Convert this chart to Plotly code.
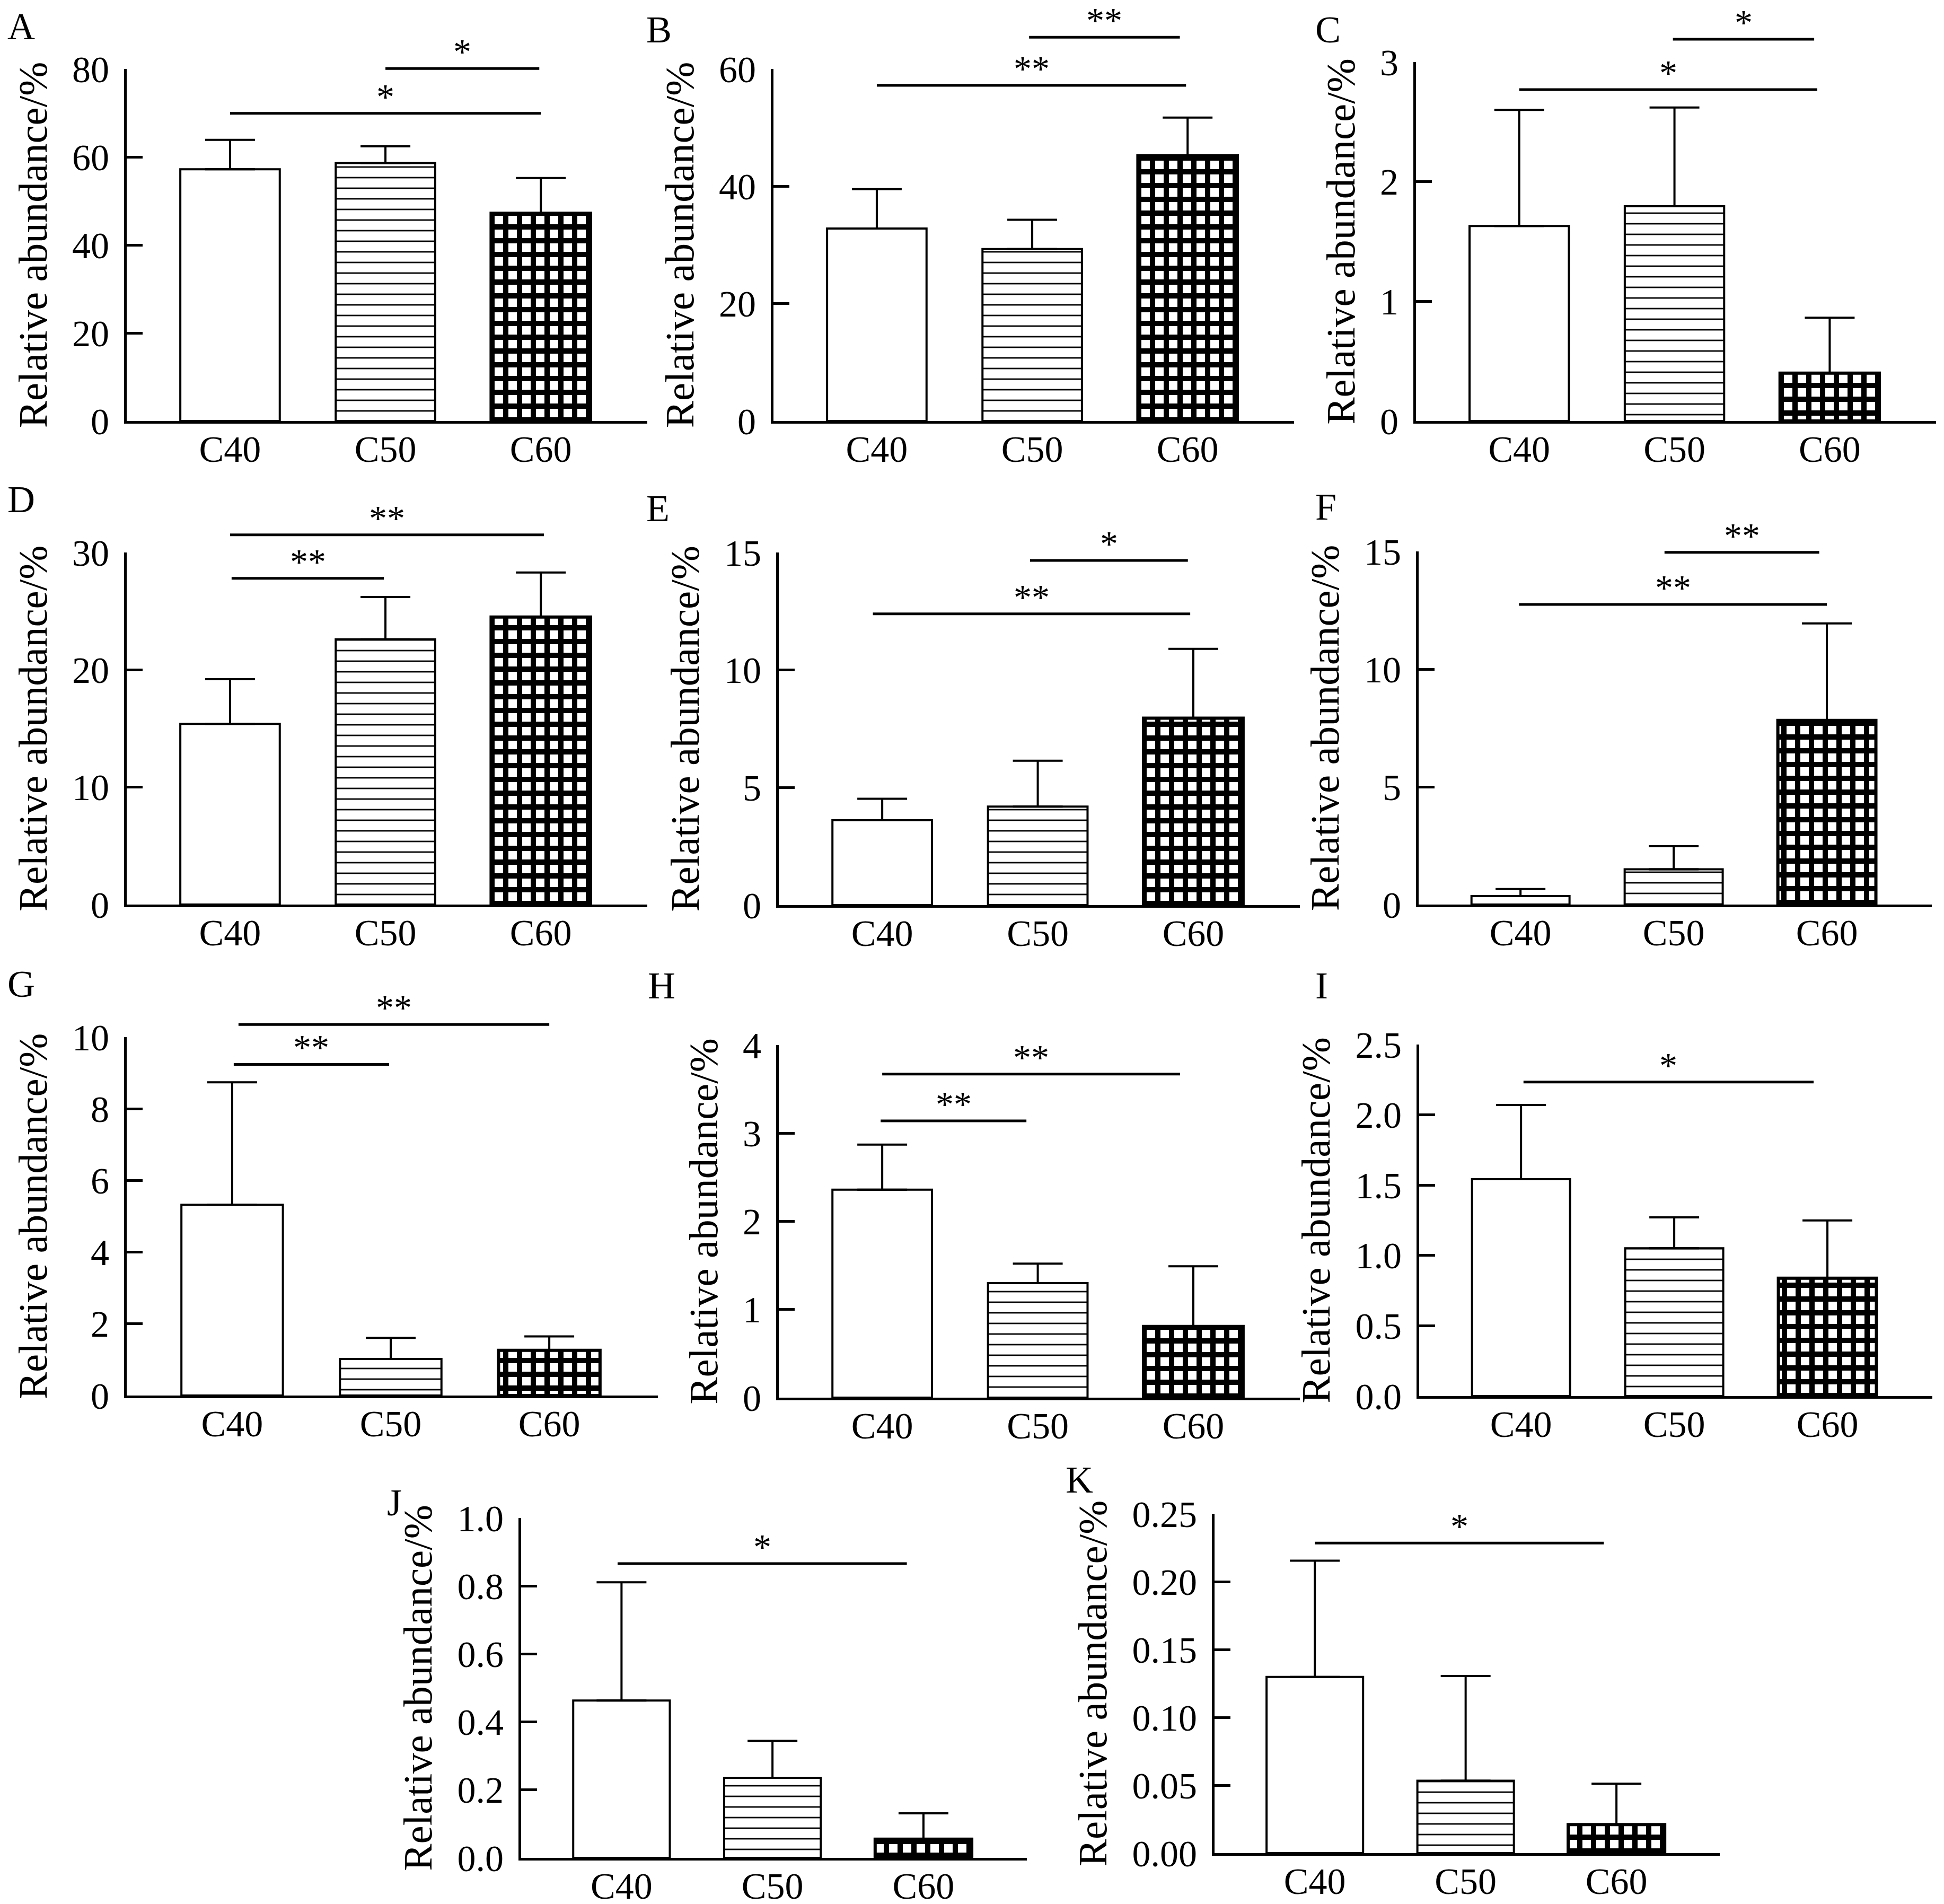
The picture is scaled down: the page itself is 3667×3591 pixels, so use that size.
import plotly.graph_objects as go

W, H = 3667, 3591
FONT = "Liberation Serif"

categories = ["C40", "C50", "C60"]
panels = ["A", "B", "C", "D", "E", "F", "G", "H", "I", "J", "K"]

# bar heights (mean) and upward error (SD)
mean_A = [57.2, 58.6, 47.2]
sd_A = [6.7, 3.8, 8.0]
mean_B = [32.8, 29.3, 45.2]
sd_B = [6.7, 5.0, 6.5]
mean_C = [1.63, 1.795, 0.40]
sd_C = [0.97, 0.825, 0.463]
mean_D = [15.4, 22.6, 24.5]
sd_D = [3.8, 3.6, 3.8]
mean_E = [3.61, 4.19, 7.95]
sd_E = [0.91, 1.95, 2.95]
mean_F = [0.36, 1.50, 7.82]
sd_F = [0.30, 0.98, 4.12]
mean_G = [5.32, 1.02, 1.26]
sd_G = [3.42, 0.59, 0.39]
mean_H = [2.36, 1.30, 0.807]
sd_H = [0.51, 0.22, 0.683]
mean_I = [1.542, 1.051, 0.838]
sd_I = [0.528, 0.220, 0.411]
mean_J = [0.463, 0.2355, 0.055]
sd_J = [0.348, 0.109, 0.076]
mean_K = [0.1298, 0.0533, 0.021]
sd_K = [0.0856, 0.0772, 0.0302]

# y tick values
ticks_A = [0, 20, 40, 60, 80]
ticks_B = [0, 20, 40, 60]
ticks_C = [0, 1, 2, 3]
ticks_D = [0, 10, 20, 30]
ticks_E = [0, 5, 10, 15]
ticks_F = [0, 5, 10, 15]
ticks_G = [0, 2, 4, 6, 8, 10]
ticks_H = [0, 1, 2, 3, 4]
ticks_I = [0.0, 0.5, 1.0, 1.5, 2.0, 2.5]
ticks_J = [0.0, 0.2, 0.4, 0.6, 0.8, 1.0]
ticks_K = [0.00, 0.05, 0.10, 0.15, 0.20, 0.25]
decimals = {"A": 0, "B": 0, "C": 0, "D": 0, "E": 0, "F": 0, "G": 0, "H": 0,
            "I": 1, "J": 1, "K": 2}

# significance brackets: (from category, to category, height, label)
sig_A = [(0, 2, 69.9, "*"), (1, 1.99, 80.1, "*")]
sig_B = [(0, 1.99, 57.2, "**"), (0.98, 1.95, 65.4, "**")]
sig_C = [(0, 1.92, 2.77, "*"), (0.99, 1.90, 3.19, "*")]
sig_D = [(0, 2.02, 31.5, "**"), (0.01, 0.99, 27.8, "**")]
sig_E = [(-0.06, 1.98, 12.39, "**"), (0.95, 1.965, 14.66, "*")]
sig_F = [(-0.01, 2.0, 12.75, "**"), (0.94, 1.95, 14.96, "**")]
sig_G = [(0.04, 2.0, 10.35, "**"), (0.01, 0.99, 9.24, "**")]
sig_H = [(0, 1.915, 3.67, "**"), (-0.01, 0.927, 3.14, "**")]
sig_I = [(0.016, 1.91, 2.233, "*")]
sig_J = [(-0.026, 1.89, 0.866, "*")]
sig_K = [(0, 1.916, 0.2284, "*")]

means = dict(A=mean_A, B=mean_B, C=mean_C, D=mean_D, E=mean_E, F=mean_F,
             G=mean_G, H=mean_H, I=mean_I, J=mean_J, K=mean_K)
sds = dict(A=sd_A, B=sd_B, C=sd_C, D=sd_D, E=sd_E, F=sd_F,
           G=sd_G, H=sd_H, I=sd_I, J=sd_J, K=sd_K)
ticks = dict(A=ticks_A, B=ticks_B, C=ticks_C, D=ticks_D, E=ticks_E, F=ticks_F,
             G=ticks_G, H=ticks_H, I=ticks_I, J=ticks_J, K=ticks_K)
sigs = dict(A=sig_A, B=sig_B, C=sig_C, D=sig_D, E=sig_E, F=sig_F,
            G=sig_G, H=sig_H, I=sig_I, J=sig_J, K=sig_K)

# panel frames in pixels: y-axis x, x-axis end, top tick y, zero y
geom = {
    "A": (231, 1213, 122, 786),
    "B": (1451, 2433, 122, 786),
    "C": (2663, 3644, 109, 786),
    "D": (231, 1213, 1034, 1698),
    "E": (1461, 2444, 1034, 1699),
    "F": (2668, 3636, 1032, 1698),
    "G": (231, 1233, 1948, 2624),
    "H": (1461, 2444, 1963, 2628),
    "I": (2669, 3637, 1962, 2625),
    "J": (975, 1929, 2855, 3496),
    "K": (2283, 3236, 2847, 3487),
}
# panel letter positions (left x, cap top y) in pixels
letter_pos = {
    "A": (4, 17), "B": (1209, 23), "C": (2471, 23),
    "D": (4, 909), "E": (1209, 926), "F": (2471, 923),
    "G": (4, 1823), "H": (1212, 1826), "I": (2471, 1826),
    "J": (720, 2801), "K": (2000, 2758),
}

XRANGE = [-0.665, 2.685]
TICK_SIZE = 70
TITLE_SIZE = 77
LETTER_SIZE = 72
STAR_SIZE = 68

fig = go.Figure()
layout = {}
n_pan = len(panels)

for i, p in enumerate(panels, start=1):
    xa, xb, yt, y0 = geom[p]
    tv = ticks[p]
    ymax = tv[-1]
    yext = max(yt - 105, 0)
    k = (y0 - yext) / (y0 - yt)

    sx = "" if i == 1 else str(i)
    vy = str(i + n_pan)

    fig.add_trace(go.Bar(
        x=categories, y=means[p], width=0.64,
        xaxis="x" + sx, yaxis="y" + sx,
        marker=dict(
            color="white",
            line=dict(color="black", width=[4, 4, 6]),
            pattern=dict(shape=["", "-", "+"], fgcolor="black", bgcolor="white",
                         size=[20, 20, 26], solidity=[0.1, 0.14, 0.62],
                         fillmode="replace"),
        ),
        error_y=dict(type="data", symmetric=False, array=sds[p],
                     arrayminus=[0, 0, 0], color="black", thickness=4, width=47),
        cliponaxis=False, showlegend=False, hoverinfo="skip",
    ))
    # invisible trace so the visible y axis gets its subplot
    fig.add_trace(go.Scatter(
        x=categories, y=means[p], xaxis="x" + sx, yaxis="y" + vy,
        mode="markers", marker=dict(opacity=0), showlegend=False, hoverinfo="skip",
    ))

    layout["xaxis" + sx] = dict(
        domain=[xa / W, xb / W], range=XRANGE, type="category",
        showline=True, linecolor="black", linewidth=5, ticks="",
        showgrid=False, zeroline=False, anchor="y" + vy,
        tickfont=dict(family=FONT, size=TICK_SIZE, color="black"),
        ticklabelstandoff=-12,
    )
    layout["yaxis" + sx] = dict(
        domain=[1 - y0 / H, 1 - yext / H], range=[0, ymax * k],
        visible=False, anchor="x" + sx, fixedrange=True,
    )
    d = decimals[p]
    layout["yaxis" + vy] = dict(
        domain=[1 - y0 / H, 1 - yt / H], range=[0, ymax], anchor="x" + sx,
        showline=True, linecolor="black", linewidth=5,
        ticks="inside", ticklen=30, tickwidth=5, tickcolor="black",
        tickvals=tv, ticktext=[f"{v:.{d}f}" for v in tv],
        tickfont=dict(family=FONT, size=TICK_SIZE, color="black"),
        showgrid=False, zeroline=False, ticklabelstandoff=14,
        title=dict(text="Relative abundance/%", standoff=24,
                   font=dict(family=FONT, size=TITLE_SIZE, color="black")),
    )

    for x0, x1, v, lab in sigs[p]:
        fig.add_shape(type="line", xref="x" + sx, yref="y" + sx,
                      x0=x0, x1=x1, y0=v, y1=v,
                      line=dict(color="black", width=5))
        fig.add_annotation(x=(x0 + x1) / 2, y=v, xref="x" + sx, yref="y" + sx,
                           text=lab, showarrow=False, yanchor="bottom", yshift=-8,
                           font=dict(family=FONT, size=STAR_SIZE, color="black"))

    lx, ly = letter_pos[p]
    fig.add_annotation(x=lx / W, y=1 - (ly - 0.229 * LETTER_SIZE - 1) / H,
                       xref="paper", yref="paper", xanchor="left", yanchor="top",
                       text=p, showarrow=False,
                       font=dict(family=FONT, size=LETTER_SIZE, color="black"))

fig.update_layout(
    width=W, height=H, template="none",
    margin=dict(l=0, r=0, t=0, b=0),
    paper_bgcolor="white", plot_bgcolor="rgba(0,0,0,0)",
    font=dict(family=FONT, color="black"),
    showlegend=False,
    **layout,
)

fig.write_html("out.html")
